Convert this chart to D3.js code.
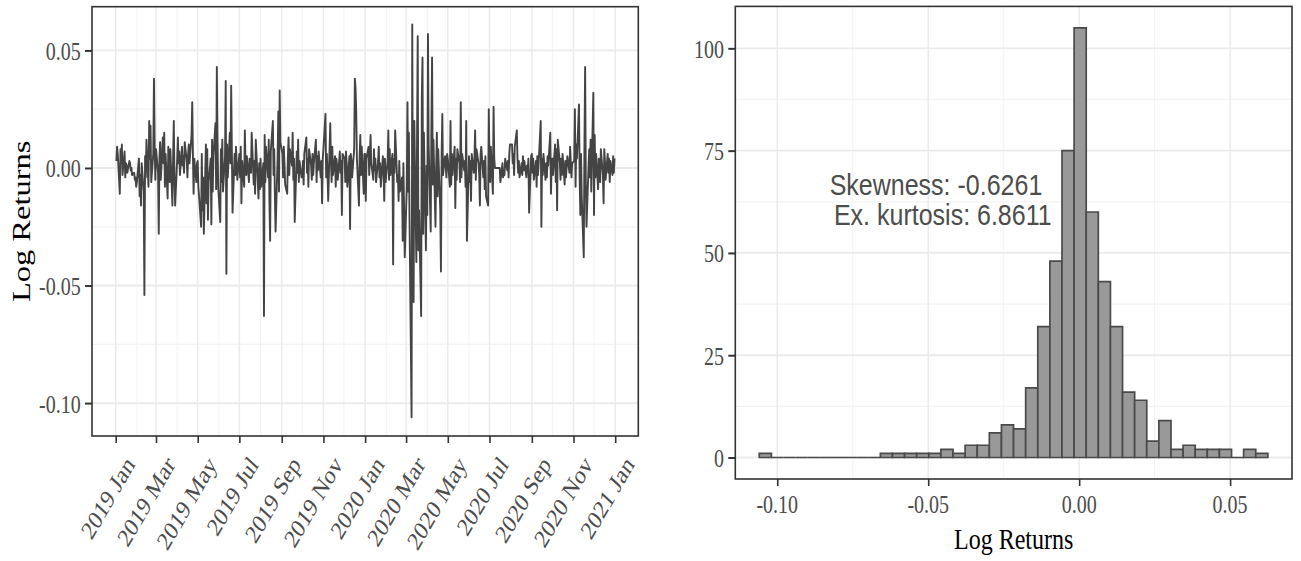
<!DOCTYPE html>
<html>
<head>
<meta charset="utf-8">
<script src="https://cdnjs.cloudflare.com/ajax/libs/d3/7.8.5/d3.min.js"></script>
<style>
  body { margin: 0; background: #fff; }
  svg { display: block; }
</style>
</head>
<body>
<script>
// daily log returns, one list per month (trading days)
const returns2019 = [
  [0.003, 0.009, 0.006, -0.011, 0.008, 0.002, 0.010, -0.003, 0.007, -0.004, 0.002, 0.001, -0.002, 0.003, 0.002, -0.001, 0.000, -0.003, -0.002, -0.005, -0.004, -0.008],
  [-0.006, 0.004, -0.012, -0.003, -0.016, 0.002, -0.010, -0.054, 0.005, -0.004, 0.012, -0.008, 0.020, 0.004, 0.018, -0.006, 0.006, 0.038, 0.010, -0.005],
  [0.008, -0.002, -0.028, 0.004, 0.011, -0.005, 0.013, 0.002, 0.015, -0.008, 0.006, -0.013, 0.009, 0.003, -0.006, 0.008, -0.016, 0.004, 0.020, -0.004, -0.016],
  [0.004, 0.013, 0.002, 0.007, -0.003, 0.009, 0.001, 0.005, -0.002, 0.011, 0.003, -0.004, 0.006, 0.010, 0.002, 0.014, 0.028, 0.006, -0.011, 0.004, -0.006, 0.002],
  [0.003, -0.008, -0.012, -0.025, 0.006, -0.018, -0.004, -0.028, 0.010, -0.015, 0.008, -0.022, -0.006, 0.004, -0.024, 0.012, -0.010, 0.005, 0.019, -0.009, 0.043, 0.012, -0.008],
  [-0.023, 0.008, -0.006, 0.012, -0.010, 0.005, 0.037, -0.045, 0.010, -0.004, 0.015, 0.002, 0.035, 0.008, -0.019, 0.006, -0.003, 0.009, 0.003, -0.005],
  [0.006, -0.004, 0.009, -0.015, 0.003, -0.008, 0.016, 0.002, -0.003, 0.005, -0.006, 0.004, 0.001, -0.002, 0.015, -0.007, 0.003, -0.011, 0.012, 0.006, -0.013, 0.002, -0.009],
  [0.004, -0.008, 0.002, -0.063, 0.014, -0.006, 0.009, -0.004, 0.012, -0.015, -0.031, 0.007, 0.020, -0.003, 0.008, -0.012, -0.027, 0.005, 0.024, -0.010, 0.033, 0.011],
  [0.006, -0.004, 0.009, 0.002, -0.007, -0.011, 0.005, 0.013, -0.003, 0.008, 0.001, 0.015, -0.005, 0.004, -0.023, 0.007, -0.002, 0.012, -0.006, 0.003, -0.004],
  [-0.004, 0.003, -0.007, 0.006, 0.013, -0.002, 0.004, -0.008, 0.008, 0.001, -0.005, 0.006, -0.003, 0.002, 0.012, -0.006, 0.005, -0.001, 0.007, -0.004, 0.003, -0.015, 0.004],
  [0.008, 0.023, -0.004, 0.006, -0.002, -0.014, 0.019, 0.003, -0.006, 0.009, -0.003, 0.005, -0.008, 0.004, 0.001, -0.005, 0.007, -0.002, 0.003, -0.020, 0.006],
  [0.004, -0.006, 0.007, 0.002, -0.008, 0.005, -0.026, 0.006, 0.003, -0.004, 0.008, 0.038, 0.034, 0.024, 0.004, -0.016, 0.005, 0.014, -0.003, 0.009, -0.011, 0.006]
];
const returns2020 = [
  [0.006, -0.014, 0.004, 0.009, -0.003, 0.006, 0.014, 0.002, -0.005, 0.008, -0.001, 0.004, -0.006, 0.003, 0.009, -0.004, 0.002, -0.008, 0.005, -0.002, -0.014, 0.004, -0.006],
  [0.003, 0.016, -0.005, 0.008, -0.003, 0.006, -0.041, 0.004, -0.002, 0.016, -0.006, -0.003, -0.014, 0.003, -0.010, -0.004, -0.031, 0.002, -0.016, -0.038],
  [-0.008, 0.028, -0.010, 0.015, -0.022, -0.106, 0.061, -0.030, -0.057, 0.020, -0.040, 0.012, 0.056, -0.035, -0.018, -0.063, 0.030, 0.047, -0.028, 0.015, -0.035, 0.001],
  [-0.020, 0.057, 0.010, -0.027, 0.018, 0.047, -0.007, 0.012, -0.025, 0.000, 0.015, -0.012, 0.008, -0.018, -0.044, 0.006, 0.023, -0.003, 0.005, 0.001, -0.004, 0.006],
  [0.004, -0.008, 0.020, -0.007, 0.006, -0.003, 0.009, -0.017, 0.004, -0.005, 0.008, 0.002, -0.006, 0.028, -0.004, 0.006, -0.001, 0.003, -0.008, 0.020, -0.031],
  [0.005, -0.006, 0.003, -0.014, 0.006, -0.002, 0.004, 0.016, -0.005, 0.008, 0.002, -0.003, -0.016, 0.006, 0.009, -0.004, 0.003, -0.009, 0.005, -0.012, -0.016, 0.025],
  [0.003, -0.006, 0.009, -0.011, 0.026, 0.004, 0.000, 0.000, 0.000, 0.000, 0.000, 0.000, -0.006, 0.002, -0.004, -0.002, -0.003, 0.004, -0.001, 0.003, -0.004, 0.006, 0.010],
  [0.010, 0.002, 0.006, -0.003, 0.009, 0.016, 0.004, -0.002, 0.003, -0.004, 0.002, -0.003, 0.005, -0.001, 0.003, -0.004, 0.001, -0.002, 0.004, -0.019, 0.005],
  [0.006, -0.002, 0.004, -0.005, 0.003, -0.008, 0.005, -0.003, 0.002, 0.020, -0.025, 0.004, -0.003, 0.006, -0.005, 0.002, -0.004, 0.005, 0.001, 0.015, -0.011, 0.003],
  [0.004, -0.003, 0.010, -0.006, 0.008, -0.018, 0.012, 0.002, -0.005, 0.004, -0.003, 0.006, -0.007, 0.003, -0.004, 0.001, 0.005, -0.002, 0.009, 0.003, -0.004, 0.002],
  [0.003, 0.025, -0.008, 0.010, 0.004, 0.027, -0.005, -0.020, 0.006, -0.012, -0.038, 0.010, 0.043, -0.006, -0.025, 0.001, 0.008, -0.004, 0.012, -0.010, 0.032],
  [-0.020, 0.014, -0.004, 0.006, -0.009, 0.004, 0.002, -0.006, 0.008, -0.003, -0.015, 0.008, 0.003, -0.005, 0.006, -0.002, 0.004, -0.006, 0.003, -0.003, 0.005, -0.002, 0.004]
];

// histogram bins (counts)
const binStart = -0.10596;
const binWidth = 0.004011;
const histCounts = [1, 0, 0, 0, 0, 0, 0, 0, 0, 0, 1, 1, 1, 1, 1, 2, 1, 3, 3, 6, 8, 7, 17, 32, 48, 75, 105, 60, 43, 32, 16, 14, 4, 9, 2, 3, 2, 2, 2, 0, 2, 1];

// ticks and labels
const lineYTicks = [0.05, 0.00, -0.05, -0.10];
const lineYMinor = [0.025, -0.025, -0.075];
const dateTicks = d3.timeMonth.every(2).range(new Date(2019, 0, 1), new Date(2021, 0, 2));
const dateMinor = d3.timeMonth.range(new Date(2019, 0, 1), new Date(2021, 0, 2)).filter(d => d.getMonth() % 2 === 1);
const histXTicks = [-0.10, -0.05, 0.00, 0.05];
const histXMinor = [-0.075, -0.025, 0.025];
const histYTicks = [0, 25, 50, 75, 100];
const histYMinor = [12.5, 37.5, 62.5, 87.5];
const statsLines = ["Skewness: -0.6261", "Ex. kurtosis: 6.8611"];

// build the daily series: each month's values go on that month's weekdays
const series = [];
[[2019, returns2019], [2020, returns2020]].forEach(([yr, months]) => {
    months.forEach((vals, m) => {
        let days = d3.timeDays(new Date(yr, m, 1), new Date(yr, m + 1, 1)).filter(d => d.getDay() % 6 !== 0);
        vals = vals.slice(0, days.length);
        days = days.slice(days.length - vals.length);
        vals.forEach((v, i) => series.push({ date: days[i], r: v }));
    });
});

const svg = d3.select("body").append("svg")
    .attr("width", 1301)
    .attr("height", 561);

const serif = "'Liberation Serif', 'Times New Roman', serif";
const sans = "'Liberation Sans', Arial, sans-serif";
const tickCol = "#4d4d4d";
const borderCol = "#333333";
const S = 1.25;   // the picture is stretched vertically, text too
const fmt = d => d3.format(".2f")(d).replace("−", "-");

function grid(g, scaleX, scaleY, box, xs, ys, col, w) {
    g.append("g").selectAll("line").data(ys).enter().append("line")
        .attr("x1", box.left).attr("x2", box.right)
        .attr("y1", d => scaleY(d)).attr("y2", d => scaleY(d))
        .attr("stroke", col).attr("stroke-width", w * S);
    g.append("g").selectAll("line").data(xs).enter().append("line")
        .attr("x1", d => scaleX(d)).attr("x2", d => scaleX(d))
        .attr("y1", box.top).attr("y2", box.bottom)
        .attr("stroke", col).attr("stroke-width", w);
}

// ---------- left panel: time series ----------
const L = { left: 92, right: 638.3, top: 6.7, bottom: 436 };
const refX = d3.scaleTime().domain([new Date(2019, 0, 1), new Date(2021, 0, 1)]).range([115.7, 615.2]);
const xL = d3.scaleTime().domain([refX.invert(L.left), refX.invert(L.right)]).range([L.left, L.right]);
const yL = d3.scaleLinear().domain([-0.114, 0.0686]).range([L.bottom, L.top]);

const gL = svg.append("g");
grid(gL, xL, yL, L, dateMinor, lineYMinor, "#f3f3f3", 1);
grid(gL, xL, yL, L, dateTicks, lineYTicks, "#ebebeb", 1.5);

const line = d3.line().x(d => xL(d.date)).y(d => yL(d.r));
gL.append("path")
    .datum(series)
    .attr("d", line)
    .attr("fill", "none")
    .attr("stroke", "#444444")
    .attr("stroke-width", 1.9)
    .attr("stroke-linejoin", "round");

gL.append("rect")
    .attr("x", L.left).attr("y", L.top)
    .attr("width", L.right - L.left).attr("height", L.bottom - L.top)
    .attr("fill", "none").attr("stroke", borderCol).attr("stroke-width", 1.6);

const axYL = gL.append("g").attr("transform", `translate(${L.left},0)`)
    .call(d3.axisLeft(yL).tickValues(lineYTicks).tickSize(7).tickFormat(""));
axYL.select(".domain").remove();
axYL.selectAll(".tick line").attr("stroke", borderCol).attr("stroke-width", 1.6 * S);
gL.append("g").selectAll("text").data(lineYTicks).enter().append("text")
    .attr("transform", d => `translate(80.7,${yL(d) + 9.5}) scale(1,${S})`)
    .attr("text-anchor", "end")
    .attr("font-family", serif).attr("font-size", 20).attr("fill", tickCol)
    .text(fmt);

const axXL = gL.append("g").attr("transform", `translate(0,${L.bottom})`)
    .call(d3.axisBottom(xL).tickValues(dateTicks).tickSize(7).tickFormat(""));
axXL.select(".domain").remove();
axXL.selectAll(".tick line").attr("stroke", borderCol).attr("stroke-width", 1.6);
gL.append("g").selectAll("text").data(dateTicks).enter().append("text")
    .attr("transform", d => `translate(${xL(d) + 20},${L.bottom + 29}) scale(1,${S}) rotate(-54)`)
    .attr("text-anchor", "end")
    .attr("font-family", serif).attr("font-size", 21).attr("fill", tickCol)
    .text(d3.timeFormat("%Y %b"));

gL.append("text")
    .attr("transform", `translate(30,${(L.top + L.bottom) / 2}) scale(1,${S}) rotate(-90)`)
    .attr("text-anchor", "middle")
    .attr("font-family", serif).attr("font-size", 26).attr("fill", "#000")
    .text("Log Returns");

// ---------- right panel: histogram ----------
const R = { left: 735.3, right: 1292, top: 6.4, bottom: 479 };
const xR = d3.scaleLinear().domain([-0.1139, 0.0705]).range([R.left, R.right]);
const yR = d3.scaleLinear().domain([-5.25, 110.25]).range([R.bottom, R.top]);

const gR = svg.append("g");
grid(gR, xR, yR, R, histXMinor, histYMinor, "#f3f3f3", 1);
grid(gR, xR, yR, R, histXTicks, histYTicks, "#ebebeb", 1.5);

// bars drawn as paths so empty bins still show their outline on the baseline
gR.append("g").selectAll("path").data(histCounts).enter().append("path")
    .attr("d", (c, i) => {
        const x0 = xR(binStart + i * binWidth), x1 = xR(binStart + (i + 1) * binWidth);
        const y0 = yR(0), y1 = yR(c);
        return `M${x0},${y0}V${y1}H${x1}V${y0}Z`;
    })
    .attr("fill", "#999999")
    .attr("stroke", "#4a4a4a")
    .attr("stroke-width", 1.7);

gR.append("rect")
    .attr("x", R.left).attr("y", R.top)
    .attr("width", R.right - R.left).attr("height", R.bottom - R.top)
    .attr("fill", "none").attr("stroke", borderCol).attr("stroke-width", 1.6);

const axYR = gR.append("g").attr("transform", `translate(${R.left},0)`)
    .call(d3.axisLeft(yR).tickValues(histYTicks).tickSize(7).tickFormat(""));
axYR.select(".domain").remove();
axYR.selectAll(".tick line").attr("stroke", borderCol).attr("stroke-width", 1.6 * S);
gR.append("g").selectAll("text").data(histYTicks).enter().append("text")
    .attr("transform", d => `translate(724,${yR(d) + 9.5}) scale(1,${S})`)
    .attr("text-anchor", "end")
    .attr("font-family", serif).attr("font-size", 20).attr("fill", tickCol)
    .text(d => d);

const axXR = gR.append("g").attr("transform", `translate(0,${R.bottom})`)
    .call(d3.axisBottom(xR).tickValues(histXTicks).tickSize(7).tickFormat(""));
axXR.select(".domain").remove();
axXR.selectAll(".tick line").attr("stroke", borderCol).attr("stroke-width", 1.6);
gR.append("g").selectAll("text").data(histXTicks).enter().append("text")
    .attr("transform", d => `translate(${xR(d)},512.7) scale(1,${S})`)
    .attr("text-anchor", "middle")
    .attr("font-family", serif).attr("font-size", 20).attr("fill", tickCol)
    .text(fmt);

gR.append("text")
    .attr("transform", `translate(${(R.left + R.right) / 2},549.3) scale(1,${S})`)
    .attr("text-anchor", "middle")
    .attr("font-family", serif).attr("font-size", 24).attr("fill", "#000")
    .text("Log Returns");

// skewness / kurtosis annotation
const statsX = xR(-0.0463);
gR.append("g").selectAll("text").data(statsLines).enter().append("text")
    .attr("transform", (d, i) => `translate(${statsX + (i === 0 ? -3.4 : 3.4)},${195 + i * 30}) scale(1,1.15)`)
    .attr("text-anchor", "middle")
    .attr("font-family", sans).attr("font-size", 25).attr("fill", "#4d4d4d")
    .text(d => d);
</script>
</body>
</html>
